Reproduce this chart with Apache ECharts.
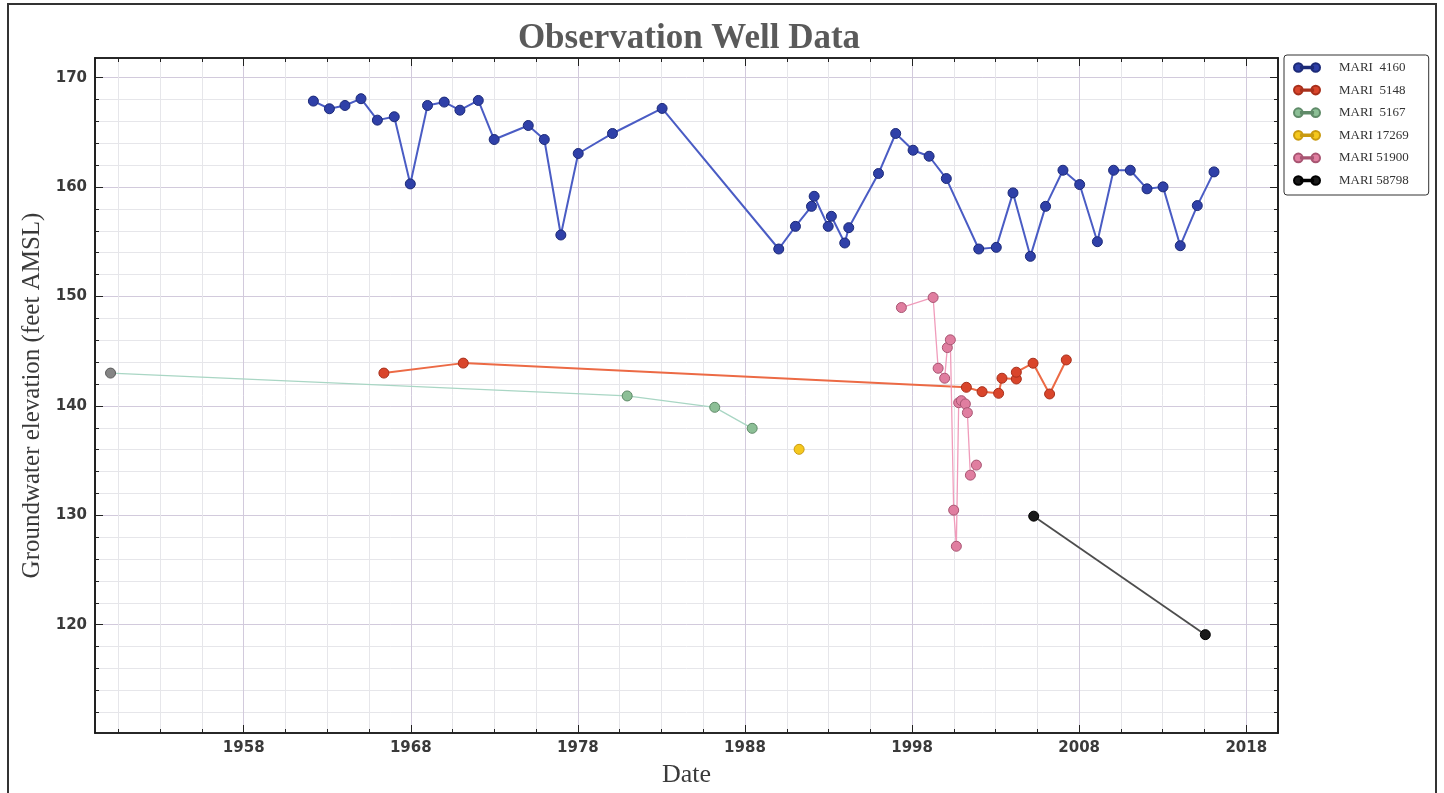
<!DOCTYPE html>
<html><head><meta charset="utf-8">
<script src="https://cdn.jsdelivr.net/npm/echarts@6/dist/echarts.min.js"></script>
<style>html,body{margin:0;padding:0;background:#fff}#c{width:1444px;height:793px}</style>
</head><body><div id="c"></div><script>
// ---- tick labels ----
const xMajorTicks = [1958, 1968, 1978, 1988, 1998, 2008, 2018];
const xMinorTicks = [1950.5, 1953, 1955.5, 1958, 1960.5, 1963, 1965.5, 1968, 1970.5, 1973, 1975.5, 1978,
  1980.5, 1983, 1985.5, 1988, 1990.5, 1993, 1995.5, 1998, 2000.5, 2003, 2005.5, 2008, 2010.5, 2013, 2015.5, 2018];
const yMajorTicks = [120, 130, 140, 150, 160, 170];
const yMinorTicks = [112, 114, 116, 118, 120, 122, 124, 126, 128, 130, 132, 134, 136, 138, 140, 142, 144, 146, 148,
  150, 152, 154, 156, 158, 160, 162, 164, 166, 168, 170];

// ---- series (decimal year, groundwater elevation ft AMSL) ----
const wellNames = ['MARI  4160', 'MARI  5148', 'MARI  5167', 'MARI 17269', 'MARI 51900', 'MARI 58798'];

const mari4160Dates = [1962.17, 1963.13, 1964.06, 1965.02, 1966.0, 1967.01, 1967.97, 1969.0, 1970.0, 1970.94, 1972.04,
  1972.99, 1975.03, 1975.99, 1976.98, 1978.02, 1980.07, 1983.04, 1990.02, 1991.02, 1991.98, 1992.14, 1992.98, 1993.17,
  1993.97, 1994.21, 1995.99, 1997.02, 1998.06, 1999.02, 2000.05, 2001.99, 2003.04, 2004.04, 2005.08, 2005.99, 2007.03,
  2008.03, 2009.09, 2010.06, 2011.06, 2012.06, 2013.02, 2014.05, 2015.07, 2016.07];
const mari4160Levels = [167.86, 167.16, 167.46, 168.08, 166.12, 166.43, 160.29, 167.46, 167.77, 167.03, 167.92,
  164.35, 165.63, 164.35, 155.62, 163.07, 164.90, 167.19, 154.34, 156.41, 158.24, 159.16, 156.41, 157.33,
  154.89, 156.29, 161.24, 164.90, 163.37, 162.82, 160.78, 154.34, 154.49, 159.47, 153.67, 158.24, 161.54,
  160.23, 155.01, 161.54, 161.54, 159.84, 160.02, 154.64, 158.31, 161.39];

const mari5148Dates = [1966.39, 1971.14, 2001.25, 2002.19, 2003.18, 2003.38, 2004.24, 2004.24, 2005.24, 2006.23, 2007.23];
const mari5148Levels = [143.0, 143.91, 141.70, 141.30, 141.15, 142.53, 142.46, 143.08, 143.90, 141.09, 144.20];

const mari5167Dates = [1950.03, 1980.95, 1986.19, 1988.43];
const mari5167Levels = [143.0, 140.91, 139.87, 137.95];

const mari17269Dates = [1991.24];
const mari17269Levels = [136.03];

const mari51900Dates = [1997.36, 1999.26, 1999.56, 1999.95, 2000.11, 2000.29, 2000.49, 2000.65, 2000.79, 2000.95,
  2001.19, 2001.31, 2001.49, 2001.85];
const mari51900Levels = [148.99, 149.91, 143.44, 142.53, 145.33, 146.04, 130.47, 127.17, 140.29, 140.48,
  140.18, 139.38, 133.67, 134.59];

const mari58798Dates = [2005.28, 2015.55];
const mari58798Levels = [129.92, 119.09];

// ---- styling ----
const styles = [
  { fill: '#2f40a8', edge: '#1c2a78', line: '#4a5cc4', lw: 2 },
  { fill: '#d9452b', edge: '#a8301c', line: '#ec6a45', lw: 2 },
  { fill: '#8cbf96', edge: '#5f8a68', line: '#a9d6c4', lw: 1.3 },
  { fill: '#f5c81e', edge: '#c99a10', line: '#f5d84a', lw: 1.3 },
  { fill: '#e07ea0', edge: '#a85572', line: '#f09cbb', lw: 1.3 },
  { fill: '#1a1a1a', edge: '#000000', line: '#4d4d4d', lw: 1.8 }
];
const dateSets = [mari4160Dates, mari5148Dates, mari5167Dates, mari17269Dates, mari51900Dates, mari58798Dates];
const levelSets = [mari4160Levels, mari5148Levels, mari5167Levels, mari17269Levels, mari51900Levels, mari58798Levels];

const serif = '"Liberation Serif", "DejaVu Serif", serif';
const sans = '"DejaVu Sans", sans-serif';
const X0 = 1949.1, X1 = 2019.9, Y0 = 110.1, Y1 = 171.8;

const legendIcon = 'path://M0,5A5,5 0 1,0 10,5A5,5 0 1,0 0,5Z M8,4.2H22V5.8H8Z M20,5A5,5 0 1,0 30,5A5,5 0 1,0 20,5Z';

const series = wellNames.map((name, i) => ({
  name: name,
  type: 'line',
  xAxisIndex: 0, yAxisIndex: 0,
  data: dateSets[i].map((d, k) => {
    const item = { value: [d, levelSets[i][k]] };
    if (i === 2 && k === 0) item.itemStyle = { color: '#858585', borderColor: '#5a5a5a' };
    return item;
  }),
  symbol: 'circle',
  symbolSize: 10,
  showSymbol: true,
  itemStyle: { color: styles[i].fill, borderColor: styles[i].edge, borderWidth: 1 },
  lineStyle: { color: styles[i].line, width: styles[i].lw },
  emphasis: { disabled: true },
  animation: false,
  z: 3 + i
}));

const frameLine = { show: true, onZero: false, lineStyle: { color: '#1a1a1a', width: 1.6 } };

function xAxisDef(pos, ticks, tickLen, showLabels, gridColor) {
  return {
    type: 'value', min: X0, max: X1, position: pos,
    axisLine: frameLine,
    axisTick: { show: true, inside: true, length: tickLen, customValues: ticks, lineStyle: { color: '#222', width: 1 } },
    axisLabel: showLabels ? { show: true, customValues: xMajorTicks, fontFamily: sans, fontWeight: 'bold', fontSize: 15, color: '#3a3a3a', margin: 8, formatter: v => String(v) } : { show: false },
    splitLine: gridColor ? { show: true, lineStyle: { color: gridColor, width: 1 } } : { show: false }
  };
}
function yAxisDef(pos, ticks, tickLen, showLabels, gridColor) {
  return {
    type: 'value', min: Y0, max: Y1, position: pos,
    axisLine: frameLine,
    axisTick: { show: true, inside: true, length: tickLen, customValues: ticks, lineStyle: { color: '#222', width: 1 } },
    axisLabel: showLabels ? { show: true, customValues: yMajorTicks, fontFamily: sans, fontWeight: 'bold', fontSize: 15, color: '#3a3a3a', margin: 8, formatter: v => String(v) } : { show: false },
    splitLine: gridColor ? { show: true, lineStyle: { color: gridColor, width: 1 } } : { show: false }
  };
}

const xAxes = [
  xAxisDef('bottom', xMinorTicks, 4, false, '#e6e6ea'),
  Object.assign(xAxisDef('bottom', xMajorTicks, 8, true, '#d2cadc'), {
    name: 'Date', nameLocation: 'middle', nameGap: 29,
    nameTextStyle: { fontFamily: serif, fontSize: 26, color: '#3a3a3a' }
  }),
  xAxisDef('top', xMinorTicks, 4, false, null),
  xAxisDef('top', xMajorTicks, 8, false, null)
];
const yAxes = [
  yAxisDef('left', yMinorTicks, 4, false, '#e6e6ea'),
  Object.assign(yAxisDef('left', yMajorTicks, 8, true, '#d2cadc'), {
    name: 'Groundwater elevation (feet AMSL)', nameLocation: 'middle', nameGap: 44,
    nameTextStyle: { fontFamily: serif, fontSize: 25, color: '#3a3a3a' }
  }),
  yAxisDef('right', yMinorTicks, 4, false, null),
  yAxisDef('right', yMajorTicks, 8, false, null)
];

const chart = echarts.init(document.getElementById('c'), null, { renderer: 'canvas' });
chart.setOption({
  animation: false,
  backgroundColor: '#ffffff',
  title: {
    text: 'Observation Well Data', left: 684, top: 16, textAlign: 'center',
    textStyle: { fontFamily: serif, fontSize: 35, fontWeight: 'bold', color: '#5a5a5a' }
  },
  grid: { left: 95, right: 166, top: 58, bottom: 60, containLabel: false, outerBoundsMode: 'none' },
  xAxis: xAxes,
  yAxis: yAxes,
  legend: {
    orient: 'vertical', left: 1284, top: 55,
    data: wellNames,
    icon: legendIcon,
    itemWidth: 26, itemHeight: 10, itemGap: 9.6,
    padding: [6, 20, 8, 9],
    borderColor: '#333', borderWidth: 1, borderRadius: 3,
    backgroundColor: '#fff',
    textStyle: { fontFamily: serif, fontSize: 13, color: '#333', padding: [0, 0, 0, 14] },
    selectedMode: false
  },
  graphic: [{
    type: 'rect', shape: { x: 8, y: 4, width: 1428, height: 792 },
    style: { fill: 'none', stroke: '#333', lineWidth: 2 }, silent: true, z: 100
  }],
  series: series
});
</script></body></html>
